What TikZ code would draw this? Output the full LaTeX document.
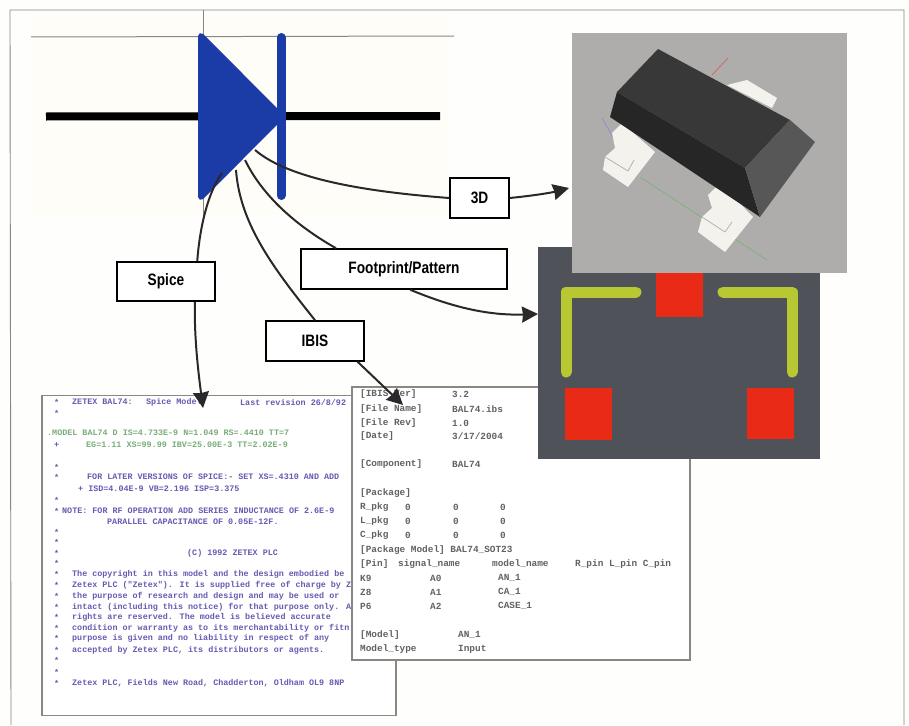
\documentclass[tikz,border=0pt]{standalone}
\usepackage{fontspec}
\usepackage{tikz}
\usetikzlibrary{arrows.meta, calc}
\newfontfamily\labelfont[FakeStretch=0.83]{Liberation Sans}
\newfontfamily\sheetfont{Liberation Mono}
\definecolor{paper}{HTML}{FEFEFC}
\definecolor{cream}{HTML}{FFFDF7}
\definecolor{rule}{HTML}{8C8682}
\definecolor{diodeblue}{HTML}{1B3BA6}
\definecolor{wirecol}{HTML}{2B2829}
\definecolor{spicetext}{HTML}{655CB2}
\definecolor{spicegreen}{HTML}{78AE78}
\definecolor{ibistext}{HTML}{626264}
\definecolor{greyback}{HTML}{AFADAC}
\definecolor{padgrey}{HTML}{50525A}
\definecolor{padred}{HTML}{E92A17}
\definecolor{silk}{HTML}{B8C832}
\definecolor{leadwhite}{HTML}{F4F2ED}

\begin{document}
\begin{tikzpicture}
  [
    x=1pt, y=-1pt,
    label/.style={draw=black, fill=white, line width=1.6pt, inner sep=0pt, font=\labelfont\bfseries\fontsize{16.5}{18}\selectfont},
    sheet/.style={draw=rule, fill=white, line width=1.3pt, inner sep=0pt},
    flat/.style={inner sep=0pt, outer sep=0pt},
    pad/.style={fill=padred, inner sep=0pt, minimum width=47pt},
    wire/.style={draw=wirecol, line width=2pt},
    arrow/.style={wire, -{Stealth[length=16pt, width=16pt, inset=1pt]}},
    spiceline/.style={anchor=west, inner sep=0pt, text=spicetext, font=\sheetfont\bfseries\fontsize{8.4}{10}\selectfont},
    ibisline/.style={anchor=west, inner sep=0pt, text=ibistext, font=\sheetfont\bfseries\fontsize{9.4}{11}\selectfont}
  ]
    \useasboundingbox (0,0) rectangle (909,725);
    \fill [paper] (0,0) rectangle (909,725);
    \fill [cream] (30,15) rectangle (450,215);
    \draw [rule, line width=.9pt] (11,725) -- (10,10) -- (904,10) -- (904,725);

    % =========================================================================
    % SYMBOL
    % =========================================================================
    \draw [rule, line width=1pt] (31,37) -- (454,36);
    \draw [rule, line width=1pt] (203,10) -- (203,218);
    \draw [black, line width=8pt] (46,116.5) -- (440,116);
    \draw [diodeblue, fill=diodeblue, line width=6pt, line join=round] (201,36) -- (201,197) -- (281,116.5) -- cycle;
    \draw [diodeblue, line width=9pt, line cap=round] (281,37.5) -- (281,195.5);

    \coordinate (tapspice) at (222,173);
    \coordinate (tapibis) at (236,170);
    \coordinate (tapfoot) at (245,160);
    \coordinate (tapthree) at (255,150);

    % =========================================================================
    % SHEETS
    % =========================================================================
    \node [sheet, minimum width=354pt, minimum height=320pt] (spicesheet) at (219,555.5) {};
    \foreach \yy in {402,413,467,477,500,511,532,542,553,563,574,585,596,607,617,628,638,650,660,672,683}
      \node [spiceline] (star\yy) at (54,\yy) {*};
    \node [spiceline] (plus1) at (54,445) {+};
    \foreach \yy/\xx/\txt in {
      402/72/{ZETEX BAL74:}, 402/146/{Spice Model}, 402/240/{Last revision 26/8/92},
      477/87/{FOR LATER VERSIONS OF SPICE:- SET XS=.4310 AND ADD},
      489/78/{+ ISD=4.04E-9 VB=2.196 ISP=3.375},
      511/62/{NOTE: FOR RF OPERATION ADD SERIES INDUCTANCE OF 2.6E-9},
      522/107/{PARALLEL CAPACITANCE OF 0.05E-12F.},
      553/187/{(C) 1992 ZETEX PLC},
      574/72/{The copyright in this model and the design embodied be},
      585/72/{Zetex PLC ("Zetex"). It is supplied free of charge by Ze},
      596/72/{the purpose of research and design and may be used or},
      607/72/{intact (including this notice) for that purpose only. Al},
      617/72/{rights are reserved. The model is believed accurate},
      628/72/{condition or warranty as to its merchantability or fitn},
      638/72/{purpose is given and no liability in respect of any},
      650/72/{accepted by Zetex PLC, its distributors or agents.},
      683/72/{Zetex PLC, Fields New Road, Chadderton, Oldham OL9 8NP}}
      \node [spiceline] (spice\yy at \xx) at (\xx,\yy) {\txt};
    \node [spiceline, text=spicegreen] (modelline) at (47,433) {.MODEL BAL74 D IS=4.733E-9 N=1.049 RS=.4410 TT=7};
    \node [spiceline, text=spicegreen] (modelnext) at (86,445) {EG=1.11 XS=99.99 IBV=25.00E-3 TT=2.02E-9};

    \node [sheet, minimum width=338pt, minimum height=273pt] (ibissheet) at (521,523.5) {};
    \foreach \yy/\xx/\txt in {
      394/360/{[IBIS Ver]}, 394/452/{3.2},
      409/360/{[File Name]}, 409/452/{BAL74.ibs},
      423/360/{[File Rev]}, 423/452/{1.0},
      436/360/{[Date]}, 436/452/{3/17/2004},
      464/360/{[Component]}, 464/452/{BAL74},
      493/360/{[Package]},
      507/360/{R\_pkg}, 507/405/{0}, 507/453/{0}, 507/500/{0},
      521/360/{L\_pkg}, 521/405/{0}, 521/453/{0}, 521/500/{0},
      535/360/{C\_pkg}, 535/405/{0}, 535/453/{0}, 535/500/{0},
      550/360/{[Package Model] BAL74\_SOT23},
      564/360/{[Pin]}, 564/398/{signal\_name}, 564/492/{model\_name}, 564/575/{R\_pin L\_pin C\_pin},
      578/360/{K9}, 578/430/{A0}, 578/498/{AN\_1},
      592/360/{Z8}, 592/430/{A1}, 592/498/{CA\_1},
      606/360/{P6}, 606/430/{A2}, 606/498/{CASE\_1},
      635/360/{[Model]}, 635/458/{AN\_1},
      649/360/{Model\_type}, 649/458/{Input}}
      \node [ibisline] (ibis\yy at \xx) at (\xx,\yy) {\txt};

    % =========================================================================
    % FOOTPRINT
    % =========================================================================
    \node [flat, fill=padgrey, minimum width=282pt, minimum height=212pt] (footpanel) at (679,353) {};
    \node [pad, minimum height=44pt] (padtop) at (679.5,295) {};
    \node [pad, minimum height=52pt] (padleft) at (588,414) {};
    \node [pad, minimum height=51pt] (padright) at (770.5,413.5) {};
    \draw [silk, line width=11pt, line cap=round, line join=round] (566,372) -- (566,292) -- (636,292);
    \draw [silk, line width=11pt, line cap=round, line join=round] (723,292) -- (792,292) -- (792,372);

    % =========================================================================
    % 3D VIEW
    % =========================================================================
    \node [flat, fill=greyback, minimum width=275pt, minimum height=240pt] (threepanel) at (709.5,153) {};
    \draw [spicegreen, line width=.6pt] (640,177) -- (767,260);
    \draw [spicetext!70, line width=.8pt] (602,118) -- (622,153);
    \draw [padred!50!greyback, line width=.8pt] (728,58) -- (712,75);
    \fill [leadwhite] (727,85) -- (747,80) -- (777,98) -- (772,108) -- cycle;
    \fill [leadwhite] (622,123) -- (655,152) -- (628,187) -- (603,170) -- (605,157) -- (615,148) -- (612,133) -- cycle;
    \fill [leadwhite] (720,183) -- (753,217) -- (725,252) -- (698,232) -- (702,217) -- (712,208) -- (708,195) -- cycle;
    \draw [greyback, line width=.7pt] (605,157) -- (628,171) -- (634,160);
    \draw [greyback, line width=.7pt] (702,217) -- (725,232) -- (732,222);
    \fill [black!78] (658,49) -- (790,120) -- (745,168) -- (617,92) -- cycle;
    \fill [black!85] (617,92) -- (745,168) -- (760,217) -- (610,117) -- cycle;
    \fill [black!66] (790,120) -- (815,142) -- (760,217) -- (745,168) -- cycle;

    % =========================================================================
    % LABELS
    % =========================================================================
    \node [label, minimum width=98pt, minimum height=39pt] (spicebox) at (166,281.5) {Spice};
    \node [label, minimum width=98pt, minimum height=40pt] (ibisbox) at (315,341) {IBIS};
    \node [label, minimum width=206pt, minimum height=40pt] (footbox) at (404,269) {Footprint/Pattern};
    \node [label, minimum width=59pt, minimum height=40pt] (threebox) at (479.5,198) {3D};

    \coordinate (spicetip) at (203,408);
    \coordinate (ibistip) at (403,405);
    \coordinate (foottip) at (538,314);
    \coordinate (threetip) at (569,188);

    % =========================================================================
    % PATHS
    % =========================================================================
    \draw [wire] (tapspice) .. controls (206,195) and (199,235) .. (spicebox.33);
    \draw [arrow] (spicebox.-35) .. controls (194,335) and (198,370) .. (spicetip);
    \draw [wire] (tapibis) .. controls (240,225) and (275,270) .. (ibisbox.north);
    \draw [arrow] (ibisbox.-26.6) -- (ibistip);
    \draw [wire] (tapfoot) .. controls (262,195) and (295,225) .. (footbox.163.8);
    \draw [arrow] (footbox.-73.3) .. controls (440,302) and (480,316) .. (foottip);
    \draw [wire] (tapthree) .. controls (290,180) and (370,192) .. (threebox.west);
    \draw [arrow] (threebox.east) .. controls (530,196) and (550,193) .. (threetip);

  \end{tikzpicture}
\end{document}
